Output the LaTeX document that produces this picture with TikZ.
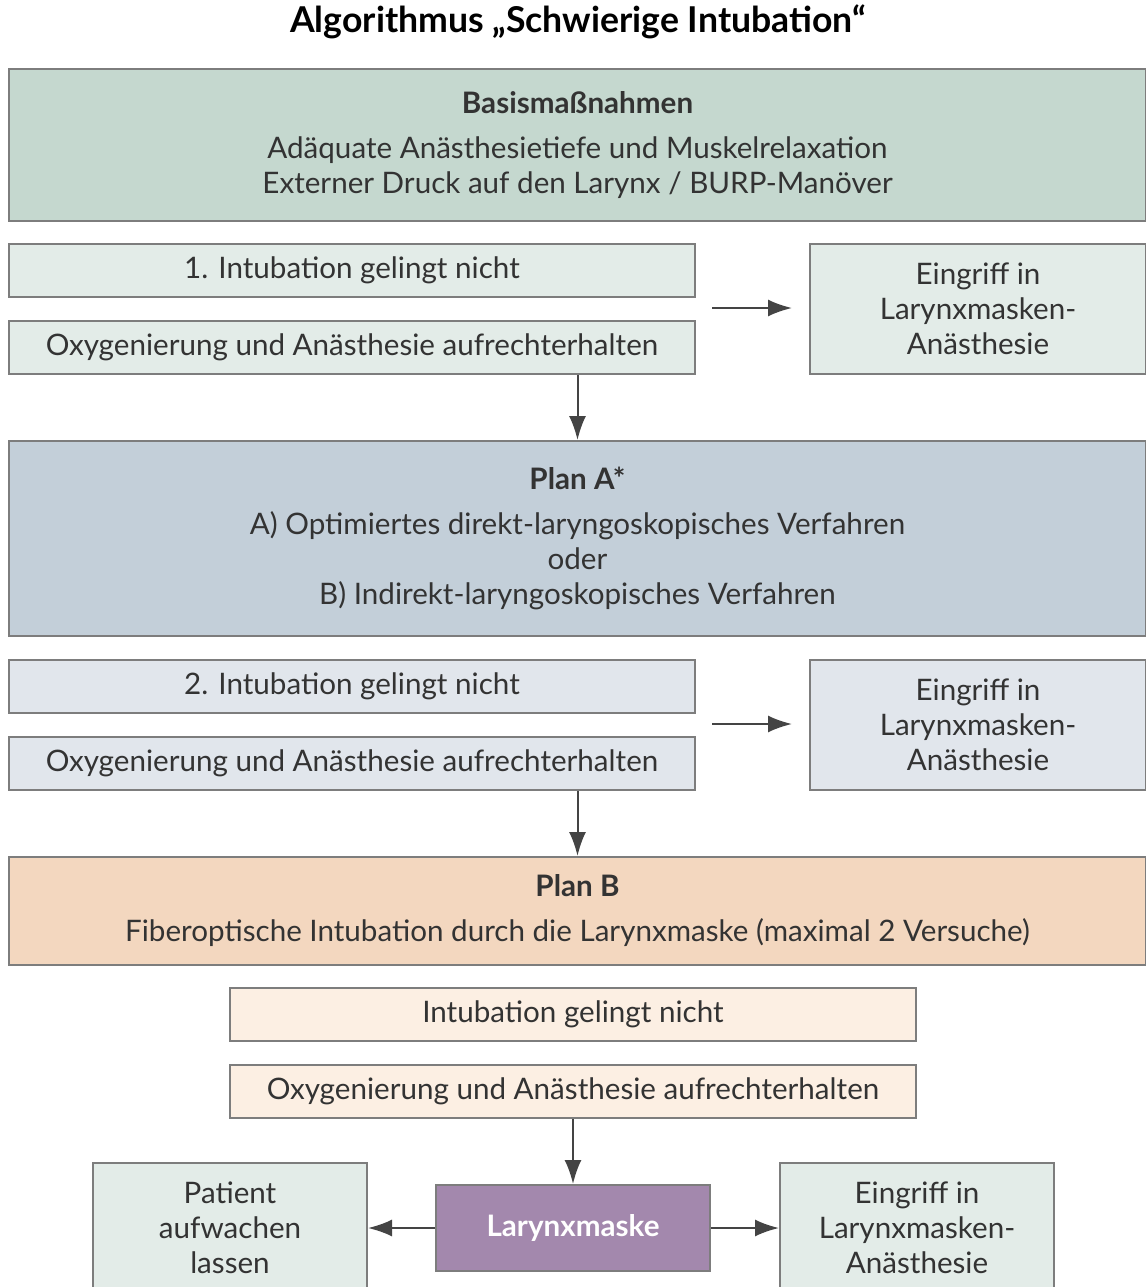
\documentclass[tikz,border=0pt]{standalone}
\usepackage{fontspec}
\setmainfont{Lato}
\usetikzlibrary{positioning}
\usetikzlibrary{arrows.meta}

\definecolor{boxgray}{HTML}{7D7D7D}
\definecolor{arrowgray}{HTML}{444444}
\definecolor{textgray}{HTML}{333333}
\definecolor{basisgreen}{HTML}{C5D8CF}
\definecolor{lightgreen}{HTML}{E3ECE8}
\definecolor{planablue}{HTML}{C3CFD9}
\definecolor{lightblue}{HTML}{E1E6EC}
\definecolor{planbpeach}{HTML}{F3D7BF}
\definecolor{lightpeach}{HTML}{FCEFE3}
\definecolor{maskpurple}{HTML}{A388AD}

\tikzset{
  stepbox/.style={draw=boxgray, line width=1pt, inner sep=0pt, align=center,
    anchor=north west, text=textgray, font=\fontsize{14.8}{17.5}\selectfont},
  flow/.style={draw=arrowgray, line width=1pt, -{Latex[length=12pt,width=8.5pt]}},
}

\begin{document}
\begin{tikzpicture}[x=0.5pt, y=-0.5pt]
      \useasboundingbox (0,0) rectangle (1146,1287);

      \node[text=black, font=\bfseries\fontsize{17.8}{20}\selectfont] (title) at (578,22)
        {Algorithmus „Schwierige Intubation“};

      \node[stepbox, fill=basisgreen, minimum width=568.5pt, minimum height=76pt] (basis) at (8,68)
        {\textbf{Basismaßnahmen}\\[5pt]
         Adäquate Anästhesietiefe und Muskelrelaxation\\
         Externer Druck auf den Larynx / BURP-Manöver};

      \node[stepbox, fill=lightgreen, minimum width=343pt, minimum height=26.5pt] (fail1) at (8,243)
        {1. Intubation gelingt nicht};
      \node[stepbox, fill=lightgreen, minimum width=343pt, minimum height=26.5pt] (oxy1) at (8,320)
        {Oxygenierung und Anästhesie aufrechterhalten};
      \node[stepbox, fill=lightgreen, minimum width=168pt, minimum height=65pt] (eing1) at (809,243)
        {Eingriff in\\Larynxmasken-\\Anästhesie};

      \node[stepbox, fill=planablue, minimum width=568.5pt, minimum height=97.5pt] (plana) at (8,440)
        {\textbf{Plan A*}\\[5pt]
         A) Optimiertes direkt-laryngoskopisches Verfahren\\
         oder\\
         B) Indirekt-laryngoskopisches Verfahren};

      \node[stepbox, fill=lightblue, minimum width=343pt, minimum height=26.5pt] (fail2) at (8,659)
        {2. Intubation gelingt nicht};
      \node[stepbox, fill=lightblue, minimum width=343pt, minimum height=26.5pt] (oxy2) at (8,736)
        {Oxygenierung und Anästhesie aufrechterhalten};
      \node[stepbox, fill=lightblue, minimum width=168pt, minimum height=65pt] (eing2) at (809,659)
        {Eingriff in\\Larynxmasken-\\Anästhesie};

      \node[stepbox, fill=planbpeach, minimum width=568.5pt, minimum height=54pt] (planb) at (8,856)
        {\textbf{Plan B}\\[5pt]
         Fiberoptische Intubation durch die Larynxmaske (maximal 2 Versuche)};

      \node[stepbox, fill=lightpeach, minimum width=343pt, minimum height=26.5pt] (fail3) at (229,987)
        {Intubation gelingt nicht};
      \node[stepbox, fill=lightpeach, minimum width=343pt, minimum height=26.5pt] (oxy3) at (229,1064)
        {Oxygenierung und Anästhesie aufrechterhalten};

      \node[stepbox, fill=maskpurple, text=white, font=\bfseries\fontsize{14.8}{17.5}\selectfont,
        minimum width=137pt, minimum height=43pt] (mask) at (435,1184) {Larynxmaske};
      \node[stepbox, fill=lightgreen, minimum width=137pt, minimum height=65pt] (wake) at (92,1162)
        {Patient\\aufwachen\\lassen};
      \node[stepbox, fill=lightgreen, minimum width=137pt, minimum height=65pt] (eing3) at (779,1162)
        {Eingriff in\\Larynxmasken-\\Anästhesie};

      \coordinate (j1) at (712,308);
      \coordinate (j2) at (712,724);

      \draw[flow, shorten >=8.5pt] (j1) -- (j1 -| eing1.west);
      \draw[flow, shorten >=8.5pt] (j2) -- (j2 -| eing2.west);
      \draw[flow] (oxy1.south -| plana.north) -- (plana.north);
      \draw[flow] (oxy2.south -| planb.north) -- (planb.north);
      \draw[flow] (oxy3.south) -- (mask.north);
      \draw[flow] (mask.west) -- (wake.east);
      \draw[flow] (mask.east) -- (eing3.west);
    \end{tikzpicture}
\end{document}
